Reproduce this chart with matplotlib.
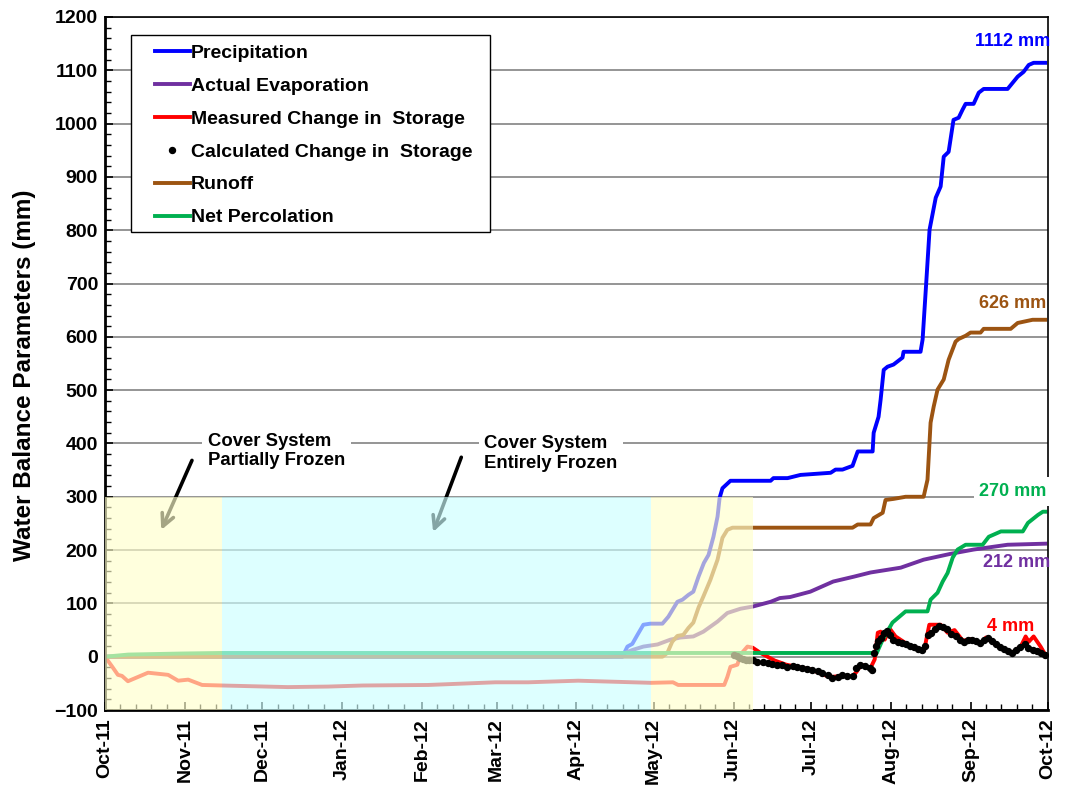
import numpy as np
import pandas as pd
import matplotlib
matplotlib.use("Agg")
import matplotlib.pyplot as plt
import matplotlib.dates as mdates
from matplotlib.ticker import MultipleLocator
from matplotlib.patches import Rectangle

plt.rcParams['font.family'] = ['Liberation Sans', 'DejaVu Sans']
plt.rcParams['font.weight'] = 'bold'
plt.rcParams['axes.labelweight'] = 'bold'

# all x values are days since 1 Oct 2011
start = pd.Timestamp('2011-10-01')

precip_days = [0, 200.9, 202.8, 204.7, 206.7, 209.0, 211.7, 216.4, 218.7, 222.2, 224.2, 226.5,
               228.4, 230.4, 232.5, 234.3, 236.2, 237.8, 238.6, 239.7, 242.8, 258.4, 259.5,
               265.0, 270.0, 281.7, 283.6, 286.3, 290.2, 292.2, 298.0, 298.4, 300.3, 301.1,
               302.3, 303.8, 306.1, 309.6, 310.0, 316.6, 317.4, 318.8, 320.1, 322.5, 324.4,
               325.6, 327.5, 329.4, 331.4, 332.9, 334.1, 337.2, 339.2, 341.1, 350.4, 354.3,
               356.6, 358.6, 360.5, 365]
precip_vals = [0, 0, 19, 24, 41, 60, 62, 62, 75, 103, 107, 116,
               122, 150, 176, 191, 225, 263, 298, 316, 330, 330, 335,
               335, 341, 345, 351, 351, 358, 385, 385, 420, 450, 482,
               538, 544, 548, 561, 572, 572, 595, 701, 801, 861, 882,
               938, 947, 1007, 1011, 1026, 1037, 1037, 1058, 1065, 1065, 1088,
               1097, 1110, 1114, 1114]

evap_days = [0, 195, 199, 205, 209, 214.5, 219.5, 223.4, 228.4, 232.3, 237.8, 241.6, 246.7,
             251.4, 258.4, 262, 266, 273.8, 282.7, 290.6, 297.2, 308.9, 317.8, 328.3, 337.2,
             350.4, 365]
evap_vals = [0, 0, 2, 13, 19, 23, 32, 36, 38, 47, 66, 82, 90,
             94, 103, 110, 112, 122, 141, 150, 158, 167, 182, 193, 201,
             210, 212]

runoff_days = [0, 216.4, 218.3, 220.2, 222.2, 224.5, 226.5, 228.4, 230.4, 232.3, 235.0, 237.8,
               239.7, 241.6, 243.6, 290.2, 292.2, 297.2, 298.4, 301.9, 303.0, 306.1, 310.8,
               317.8, 319.3, 320.5, 321.7, 323.2, 325.6, 327.5, 330.2, 331.4, 334.1, 336.0,
               339.9, 341.1, 351.6, 354.3, 360.1, 365]
runoff_vals = [0, 0, 7, 28, 39, 41, 54, 64, 92, 113, 144, 182,
               223, 238, 242, 242, 248, 248, 260, 270, 294, 296, 300,
               300, 332, 439, 469, 501, 520, 557, 591, 596, 602, 608,
               608, 615, 615, 626, 632, 632]

perc_days = [0, 9, 30, 45, 299.6, 301.9, 305.7, 310.8, 319.3, 320.5, 323.2, 325.2, 327.1,
             329.1, 331.0, 334.1, 340.7, 343.1, 347.8, 356.3, 358.3, 362.2, 364.1, 365]
perc_vals = [0, 4, 6, 7, 7, 32, 64, 85, 85, 107, 120, 141, 157,
             186, 201, 210, 210, 225, 235, 235, 251, 266, 272, 272]

meas_days = [0, 2.7, 5, 6.6, 8.9, 12.8, 16.7, 20.6, 24.5, 28.4, 32.3, 37.7, 45.5, 71, 86.6,
             100, 125.5, 151.5, 164.3, 183.7, 198, 212, 220.5, 222.5, 240.4, 241.6, 242.8,
             245.5, 246.7, 249.4, 251.4, 254.5, 259.9, 264.5, 268.6, 274.2, 279, 281.7,
             286.3, 290.2, 291.8, 293.6, 297.2, 298.8, 300.0, 301.1, 302.7, 304.6, 306.9,
             311.9, 318.0, 320.0, 324.4, 327.1, 329.8, 333, 336.4, 339.6, 342, 346.7, 352,
             355.6, 357.4, 358.6, 360.5, 363.2, 365]
meas_vals = [0, -18, -34, -36, -46, -38, -30, -32, -34, -45, -43, -53, -54, -57, -56,
             -54, -53, -48, -48, -45, -47, -49, -48, -53, -53, -38, -19,
             -15, 4, 19, 17, 7, -7, -15, -19, -24, -34, -38,
             -36, -37, -28, -15, -21, -5, 45, 47, 32, 53, 38,
             22, 12, 60, 60, 45, 50, 30, 33, 24, 36, 19, 7,
             20, 38, 28, 38, 19, 4]

calc_days = [244.0, 245.2, 246.4, 247.6, 248.8, 250.1, 251.4, 253.3, 255.3, 257.2, 259.1, 261.0,
             263.0, 264.9, 266.9, 268.8, 270.7, 272.7, 274.6, 276.6, 278.5, 280.5, 282.4,
             284.4, 286.3, 288.2, 290.2, 291.4, 293.0, 294.9, 296.8, 297.6, 298.4, 299.2,
             300.0, 301.1, 302.3, 303.4, 304.6, 306.1, 307.7, 309.3, 310.8, 312.4, 314.0,
             315.5, 317.1, 318.3, 319.5, 320.7, 322.3, 323.9, 325.4, 327.0, 328.6, 330.2,
             331.8, 333.3, 334.9, 336.5, 338.0, 339.6, 341.2, 342.8, 344.3, 345.9, 347.5,
             349.1, 350.6, 352.2, 353.8, 355.4, 357.0, 358.5, 360.1, 361.7, 363.2, 364.8]
calc_vals = [4, 1, -2, -5, -7, -7, -7, -9, -10, -12, -13, -15,
             -16, -19, -18, -19, -21, -23, -25, -27, -31, -34, -40,
             -38, -35, -37, -36, -21, -16, -18, -21, -24, 7, 20,
             30, 36, 44, 49, 40, 32, 28, 26, 23, 21, 18,
             15, 12, 20, 40, 45, 52, 58, 56, 52, 42, 38,
             31, 28, 31, 32, 29, 26, 32, 36, 29, 24, 19,
             14, 10, 7, 12, 19, 23, 17, 13, 11, 7, 4]

# frozen periods: (start day, end day, colour)
shade_starts = [0, 45.5, 212.1]
shade_ends = [45.5, 212.1, 251.4]
shade_colors = ['#FFFFCC', '#CCFFFF', '#FFFFCC']


def to_dates(days):
    return start + pd.to_timedelta(np.asarray(days, dtype=float), unit='D')


def day(d):
    return to_dates([d])[0]


fig, ax = plt.subplots(figsize=(10.67, 7.89), dpi=100)
fig.subplots_adjust(left=0.0984, right=0.982, top=0.9785, bottom=0.1001)

lw = 2.8
ax.plot(to_dates(precip_days), precip_vals, color='#0000FF', lw=lw, label='Precipitation', zorder=2)
ax.plot(to_dates(evap_days), evap_vals, color='#7030A0', lw=lw, label='Actual Evaporation', zorder=2)
ax.plot(to_dates(meas_days), meas_vals, color='#FF0000', lw=lw, label='Measured Change in  Storage', zorder=2)
ax.plot(to_dates(calc_days), calc_vals, ls='none', marker='o', ms=4.3, color='black',
        label='Calculated Change in  Storage', zorder=2.2)
ax.plot(to_dates(runoff_days), runoff_vals, color='#9C5412', lw=lw, label='Runoff', zorder=2)
ax.plot(to_dates(perc_days), perc_vals, color='#00B050', lw=lw, label='Net Percolation', zorder=2.1)

# shading goes over the lines so they look faded
for s, e, c in zip(shade_starts, shade_ends, shade_colors):
    ax.fill_between(to_dates([s, e]), -100, 300, color=c, alpha=0.65, lw=0, zorder=3)

# arrows (under the shading)
ax.annotate('', xy=(day(21.4), 233), xytext=(day(34.2), 373),
            arrowprops=dict(arrowstyle='->', lw=2.6, color='black', mutation_scale=22),
            zorder=2.5)
ax.annotate('', xy=(day(127), 229), xytext=(day(138.7), 379),
            arrowprops=dict(arrowstyle='->', lw=2.6, color='black', mutation_scale=22),
            zorder=2.5)

box = dict(facecolor='white', edgecolor='none', pad=4)
ax.text(day(40), 386, 'Cover System\nPartially Frozen', fontsize=13.3,
        ha='left', va='center', linespacing=1.2, bbox=box, zorder=6)
ax.text(day(147.2), 381, 'Cover System\nEntirely Frozen', fontsize=13.3,
        ha='left', va='center', linespacing=1.2, bbox=box, zorder=6)

# end values
ax.text(day(352.3), 1154, '1112 mm', color='#0000FF', fontsize=13, ha='center', va='center', zorder=6)
ax.text(day(352.5), 662, '626 mm', color='#9C5412', fontsize=13, ha='center', va='center', zorder=6)
ax.text(day(352.5), 310, '270 mm', color='#00B050', fontsize=13, ha='center', va='center',
        bbox=box, zorder=6)
ax.text(day(354.0), 176, '212 mm', color='#7030A0', fontsize=13, ha='center', va='center', zorder=6)
ax.text(day(351.6), 56, '4 mm', color='#FF0000', fontsize=13, ha='center', va='center', zorder=6)

ax.set_xlim(day(0), day(366))
ax.set_ylim(-100, 1200)
ax.yaxis.set_major_locator(MultipleLocator(100))
ax.yaxis.set_minor_locator(MultipleLocator(20))
ax.xaxis.set_major_locator(mdates.MonthLocator())
ax.xaxis.set_minor_locator(mdates.DayLocator(bymonthday=[7, 13, 19, 25]))
ax.xaxis.set_major_formatter(mdates.DateFormatter('%b-%y'))
ax.grid(axis='y', which='major', color='#8c8c8c', lw=1.3)
ax.tick_params(axis='both', which='major', direction='in', length=6, width=1.2, labelsize=14)
ax.tick_params(axis='both', which='minor', direction='in', length=4, width=1.0)
ax.tick_params(axis='x', which='major', pad=6)
ax.tick_params(axis='y', which='major', pad=5)
for lab in ax.get_xticklabels():
    lab.set_rotation(90)
    lab.set_fontweight('bold')
for lab in ax.get_yticklabels():
    lab.set_fontweight('bold')

for side in ['left', 'bottom']:
    ax.spines[side].set_linewidth(2.0)
for side in ['top', 'right']:
    ax.spines[side].set_linewidth(1.2)

ax.set_ylabel('Water Balance Parameters (mm)', fontsize=17.5)
ax.yaxis.set_label_coords(-0.073, 0.483)

# legend frame drawn separately so the padding can match
ax.add_patch(Rectangle((0.0276, 0.690), 0.3806, 0.284, transform=ax.transAxes,
                       facecolor='white', edgecolor='black', lw=1.0, zorder=9))
leg = ax.legend(loc='upper left', bbox_to_anchor=(0.053, 0.961), fontsize=14, numpoints=1,
                handlelength=1.8, handletextpad=0.05, labelspacing=0.79, borderpad=0,
                frameon=False, borderaxespad=0)
leg.set_zorder(10)

plt.savefig('out.png', dpi=100)
